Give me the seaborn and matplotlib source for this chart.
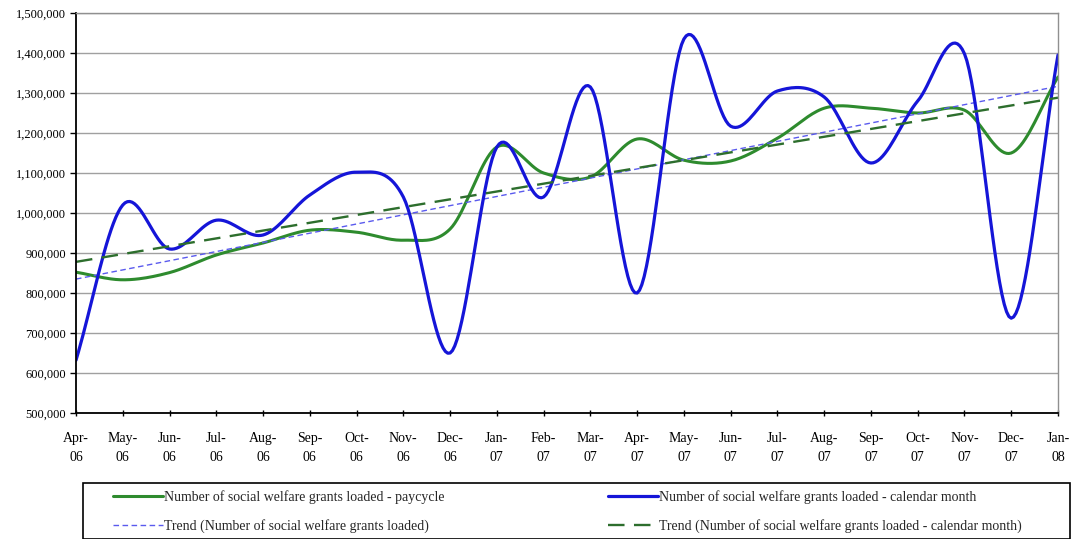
import matplotlib
matplotlib.use("Agg")
import matplotlib.pyplot as plt
import matplotlib.ticker as mticker
from matplotlib.patches import Rectangle
import seaborn as sns
import pandas as pd
import numpy as np

# month labels along the x axis
months = ["Apr-\n06", "May-\n06", "Jun-\n06", "Jul-\n06", "Aug-\n06", "Sep-\n06",
          "Oct-\n06", "Nov-\n06", "Dec-\n06", "Jan-\n07", "Feb-\n07", "Mar-\n07",
          "Apr-\n07", "May-\n07", "Jun-\n07", "Jul-\n07", "Aug-\n07", "Sep-\n07",
          "Oct-\n07", "Nov-\n07", "Dec-\n07", "Jan-\n08"]

# grants loaded per paycycle
paycycle = [852000, 833000, 851000, 895000, 925000, 957000, 952000, 932000,
            960000, 1165000, 1100000, 1090000, 1185000, 1132000, 1130000,
            1187000, 1262000, 1262000, 1250000, 1257000, 1150000, 1340000]

# grants loaded per calendar month
calendar = [632000, 1020000, 910000, 982000, 945000, 1045000, 1102000, 1040000,
            650000, 1165000, 1040000, 1315000, 800000, 1435000, 1217000,
            1305000, 1290000, 1125000, 1280000, 1398000, 737000, 1395000]

label_pay = "Number of social welfare grants loaded - paycycle"
label_cal = "Number of social welfare grants loaded - calendar month"
label_trend_pay = "Trend (Number of social welfare grants loaded)"
label_trend_cal = "Trend (Number of social welfare grants loaded - calendar month)"


def smooth(values, steps=20):
    """Catmull-Rom curve through the points, like a smoothed spreadsheet line"""
    y = np.asarray(values, dtype=float)
    n = len(y)
    p = np.concatenate([[2 * y[0] - y[1]], y, [2 * y[-1] - y[-2]]])
    xs, ys = [], []
    for i in range(n - 1):
        p0, p1, p2, p3 = p[i], p[i + 1], p[i + 2], p[i + 3]
        t = np.linspace(0, 1, steps, endpoint=False)
        seg = 0.5 * ((2 * p1) + (-p0 + p2) * t
                     + (2 * p0 - 5 * p1 + 4 * p2 - p3) * t ** 2
                     + (-p0 + 3 * p1 - 3 * p2 + p3) * t ** 3)
        xs.extend(i + t)
        ys.extend(seg)
    xs.append(n - 1)
    ys.append(y[-1])
    return pd.DataFrame({"x": xs, "y": ys})


sns.set_theme(style="white")
plt.rcParams["font.family"] = ["Liberation Serif", "DejaVu Serif"]

W, H = 1073, 539
fig = plt.figure(figsize=(W / 100, H / 100), dpi=100)
fig.patch.set_facecolor("white")
ax = fig.add_axes([76 / W, 1 - 413 / H, (1058 - 76) / W, 400 / H])

idx = np.arange(len(months))

# trend lines (least squares fits)
k_pay = np.polyfit(idx, paycycle, 1)
k_cal = np.polyfit(idx, calendar, 1)
trend_df = pd.DataFrame({"x": [idx[0], idx[-1]]})
trend_df["pay"] = np.polyval(k_pay, trend_df["x"])
trend_df["cal"] = np.polyval(k_cal, trend_df["x"])

pay_df = smooth(paycycle)
cal_df = smooth(calendar)

sns.lineplot(data=pay_df, x="x", y="y", ax=ax, color="#2e8b2e", linewidth=2.2,
             label=label_pay, sort=False)
sns.lineplot(data=trend_df, x="x", y="pay", ax=ax, color="#5a5aee", linewidth=1.0,
             label=label_trend_pay)
ax.lines[-1].set_dashes((4, 2.5))
sns.lineplot(data=cal_df, x="x", y="y", ax=ax, color="#1515d8", linewidth=2.3,
             label=label_cal, sort=False)
sns.lineplot(data=trend_df, x="x", y="cal", ax=ax, color="#2d6e2d", linewidth=1.7,
             label=label_trend_cal)
ax.lines[-1].set_dashes((7, 4))

ax.set_xlim(0, len(months) - 1)
ax.set_ylim(500000, 1500000)
ax.set_yticks(np.arange(500000, 1500001, 100000))
ax.yaxis.set_major_formatter(mticker.FuncFormatter(lambda v, p: f"{int(v):,}"))
ax.set_xticks(idx)
ax.set_xticklabels(months, linespacing=1.55)
ax.set_xlabel("")
ax.set_ylabel("")

ax.grid(axis="y", color="#a0a0a0", linewidth=1.0)
ax.set_axisbelow(True)
for side in ["top", "right"]:
    ax.spines[side].set_color("#909090")
    ax.spines[side].set_linewidth(1.0)
for side in ["left", "bottom"]:
    ax.spines[side].set_color("black")
    ax.spines[side].set_linewidth(1.3)

ax.tick_params(axis="y", which="major", left=True, length=4, width=1,
               direction="out", labelsize=9, pad=3, colors="black")
ax.tick_params(axis="x", which="major", bottom=True, length=4, width=1,
               direction="inout", labelsize=10, pad=12, colors="black")

# legend below the chart: frame drawn by hand, one legend per column
handles, labels = ax.get_legend_handles_labels()
ax.get_legend().remove()
fig.patches.append(Rectangle((83 / W, 0), (1070 - 83) / W, 1 - 483 / H,
                             transform=fig.transFigure, fill=False,
                             edgecolor="black", linewidth=1.2))
leg_opts = dict(loc="upper left", frameon=False, fontsize=10, handlelength=3.6,
                handletextpad=0.05, labelspacing=1.1, borderpad=0,
                borderaxespad=0)
fig.legend(handles[:2], labels[:2], bbox_to_anchor=(113 / W, 1 - 490 / H), **leg_opts)
fig.legend(handles[2:], labels[2:], bbox_to_anchor=(608 / W, 1 - 490 / H), **leg_opts)

fig.savefig("out.png", dpi=100)
